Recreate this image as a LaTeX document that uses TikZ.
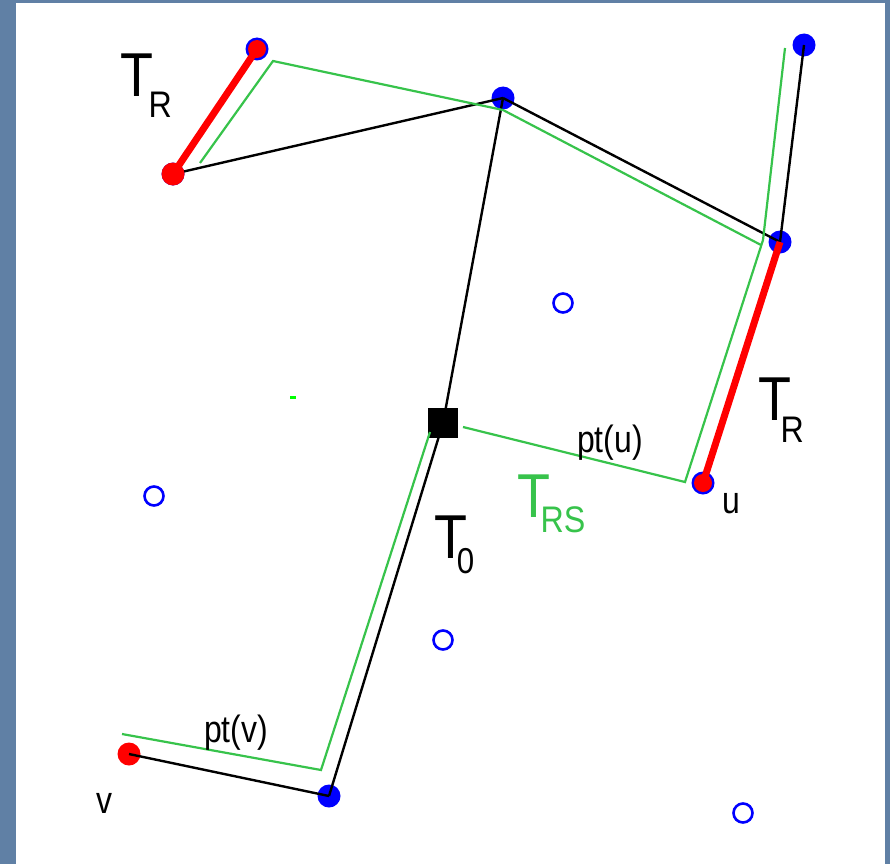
\documentclass[tikz,border=0pt]{standalone}
\usepackage{fontspec}
\setmainfont{Liberation Sans}
\definecolor{frame}{RGB}{96,128,165}
\definecolor{tgreen}{RGB}{55,195,75}
\definecolor{bgreen}{RGB}{0,255,0}
\newcommand\bigT{\fontsize{62}{62}\selectfont}
\newcommand\subF{\fontsize{37}{37}\selectfont}
\newcommand\smallF{\fontsize{38}{38}\selectfont}
\tikzset{
  blk/.style={draw=black, line width=2.4pt},
  grn/.style={draw=tgreen, line width=2.2pt},
  redl/.style={draw=red, line width=7pt},
  bdot/.style={circle, fill=blue, minimum size=23pt, inner sep=0pt},
  rdot/.style={circle, fill=red, minimum size=23pt, inner sep=0pt},
  rsmall/.style={circle, fill=red, minimum size=18pt, inner sep=0pt},
  odot/.style={circle, draw=blue, line width=2.6pt, minimum size=19pt, inner sep=0pt},
  sq/.style={rectangle, fill=black, minimum size=30pt, inner sep=0pt},
  biglbl/.style={inner sep=0pt, anchor=base west, xscale=0.87},
  smlbl/.style={inner sep=0pt, anchor=base west, xscale=0.84, font=\smallF},
}
\begin{document}
\begin{tikzpicture}[x=1pt,y=-1pt]
\useasboundingbox (0,0) rectangle (890,864);
\fill[frame] (0,0) rectangle (890,864);
\fill[white] (16,3) rectangle (885,864);

% blue points
\node[bdot] (a) at (257,49) {};
\node[bdot] (b) at (173,174) {};
\node[bdot] (c) at (503,98) {};
\node[bdot] (d) at (804,45) {};
\node[bdot] (e) at (780,242) {};
\node[bdot] (u) at (703,483) {};
\node[bdot] (w) at (329,796) {};
\node[sq] (s) at (443,423) {};

% open points
\node[odot] (o1) at (563,303) {};
\node[odot] (o2) at (154,496) {};
\node[odot] (o3) at (443,640) {};
\node[odot] (o4) at (743,813) {};

% green stray mark
\fill[bgreen] (290,395.5) rectangle (296,398.5);

% tree T0 (black)
\draw[blk] (b.center) -- (c.center);
\draw[blk] (c.center) -- (e.center);
\draw[blk] (e.center) -- (d.center);
\draw[blk] (c.center) -- (s.center);
\draw[blk] (s.center) -- (w.center);

% T_RS (green)
\coordinate (g1) at (200,163);
\coordinate (g2) at (273,61);
\coordinate (g3) at (503,110);
\coordinate (g4) at (761,245);
\coordinate (h1) at (785,48);
\coordinate (h2) at (763,240);
\coordinate (h3) at (685,482);
\coordinate (h4) at (463,427);
\coordinate (k1) at (430,432);
\coordinate (k2) at (321,770);
\coordinate (k3) at (122,734);
\draw[grn, line join=miter] (g1) -- (g2) -- (g3) -- (g4);
\draw[grn, line join=miter] (h1) -- (h2) -- (h3) -- (h4);
\draw[grn, line join=miter] (k1) -- (k2) -- (k3);

% v - w edge
\node[rdot] (v) at (129,754) {};
\draw[blk] (v.center) -- (w.center);

% T_R (red)
\draw[redl] (a.center) -- (b.center);
\draw[redl] (e.center) -- (u.center);
\node[rsmall] (ar) at (a.center) {};
\node[rdot] (br) at (b.center) {};
\node[rsmall] (ur) at (u.center) {};

% labels
\node[biglbl] (l1) at (120,96) {\bigT T\hspace{-5.2pt}\raisebox{-21pt}{\subF R}};
\node[biglbl] (l2) at (758,420) {\bigT T\hspace{-12pt}\raisebox{-22pt}{\subF R}};
\node[biglbl] (l3) at (434,558) {\bigT T\hspace{-11.8pt}\raisebox{-15pt}{\fontsize{36}{36}\selectfont 0}};
\node[biglbl, text=tgreen] (l4) at (517,517) {\bigT T\hspace{-10.9pt}\raisebox{-15pt}{\subF RS}};
\node[smlbl] (l5) at (577,452) {pt(u)};
\node[smlbl] (l6) at (204,742) {pt(v)};
\node[smlbl] (l7) at (722,513) {u};
\node[smlbl] (l8) at (96,813) {v};
\end{tikzpicture}
\end{document}
